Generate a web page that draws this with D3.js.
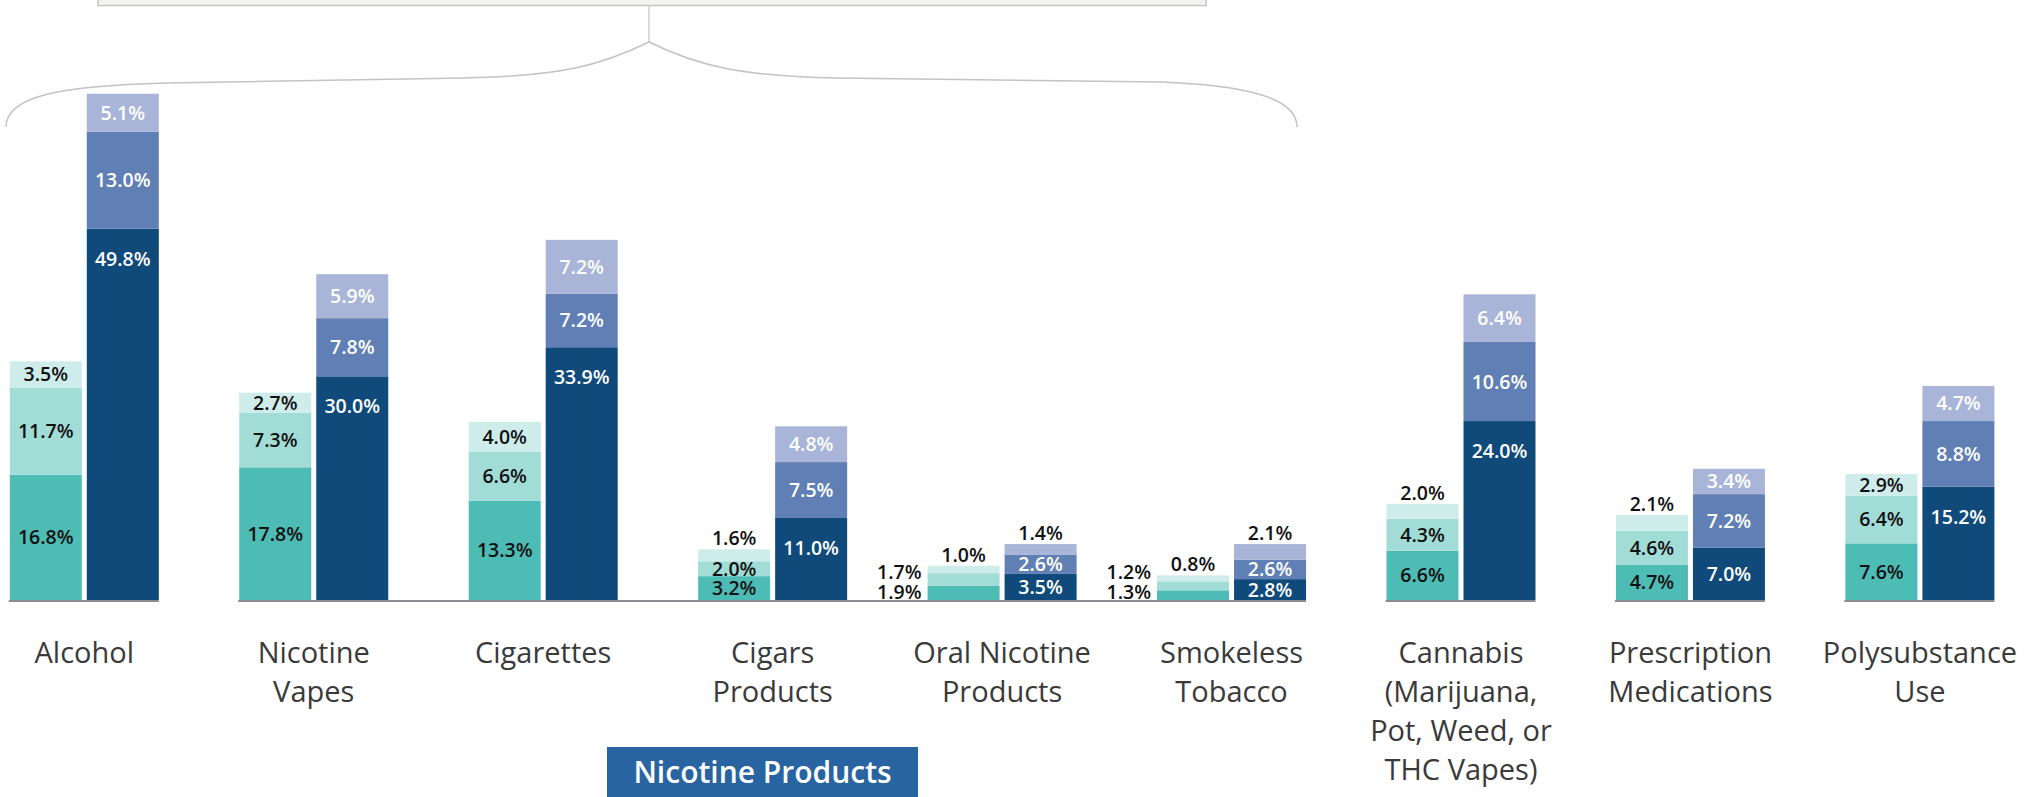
<!DOCTYPE html>
<html>
<head>
<meta charset="utf-8">
<script src="https://cdn.jsdelivr.net/npm/d3@7"></script>
<style>
  html, body { margin: 0; padding: 0; background: #ffffff; }
  svg { display: block; }
  text { font-family: "Open Sans", "Noto Sans", sans-serif; }
</style>
</head>
<body>
<svg id="chart" width="2038" height="797"></svg>
<script>
// ---------------- DATA ----------------
const categories = [
  "Alcohol", "Nicotine Vapes", "Cigarettes", "Cigars Products",
  "Oral Nicotine Products", "Smokeless Tobacco",
  "Cannabis (Marijuana, Pot, Weed, or THC Vapes)",
  "Prescription Medications", "Polysubstance Use"
];
const categoryLines = [
  ["Alcohol"], ["Nicotine", "Vapes"], ["Cigarettes"], ["Cigars", "Products"],
  ["Oral Nicotine", "Products"], ["Smokeless", "Tobacco"],
  ["Cannabis", "(Marijuana,", "Pot, Weed, or", "THC Vapes)"],
  ["Prescription", "Medications"], ["Polysubstance", "Use"]
];
// teal stacked bar (bottom -> top)
const tealBottom = [16.8, 17.8, 13.3, 3.2, 1.9, 1.3, 6.6, 4.7, 7.6];
const tealMiddle = [11.7, 7.3, 6.6, 2.0, 1.7, 1.2, 4.3, 4.6, 6.4];
const tealTop    = [3.5, 2.7, 4.0, 1.6, 1.0, 0.8, 2.0, 2.1, 2.9];
// blue stacked bar (bottom -> top)
const blueBottom = [49.8, 30.0, 33.9, 11.0, 3.5, 2.8, 24.0, 7.0, 15.2];
const blueMiddle = [13.0, 7.8, 7.2, 7.5, 2.6, 2.6, 10.6, 7.2, 8.8];
const blueTop    = [5.1, 5.9, 7.2, 4.8, 1.4, 2.1, 6.4, 3.4, 4.7];
const nicotineGroup = ["Nicotine Vapes", "Cigarettes", "Cigars Products",
                       "Oral Nicotine Products", "Smokeless Tobacco"];
const groupTitle = "Nicotine Products";

// ---------------- STYLE ----------------
const tealColors = ["#4dbcb5", "#a2dcd7", "#cdecea"];
const blueColors = ["#0f4a7b", "#607fb5", "#a8b5d8"];

const svg = d3.select("#chart");

const x = d3.scalePoint().domain(categories).range([84.3, 1919.9]).padding(0);
const inner = d3.scaleBand().domain(["teal", "blue"]).range([-74.5, 74.5])
  .paddingInner(0.065).paddingOuter(0);
const y = d3.scaleLinear().domain([0, 68]).range([600, 93]);

const rows = categories.map((c, i) => ({
  cat: c,
  t0: tealBottom[i], t1: tealMiddle[i], t2: tealTop[i],
  b0: blueBottom[i], b1: blueMiddle[i], b2: blueTop[i]
}));
const tealStack = d3.stack().keys(["t0", "t1", "t2"])(rows);
const blueStack = d3.stack().keys(["b0", "b1", "b2"])(rows);

// ---- top box + brace (decorative annotation) ----
svg.append("rect").attr("x", 98).attr("y", -10).attr("width", 1108).attr("height", 15.5)
  .attr("fill", "#f3f3f2").attr("stroke", "#c4c4c4").attr("stroke-width", 1.5);
svg.append("line").attr("x1", 649).attr("x2", 649).attr("y1", 6).attr("y2", 42)
  .attr("stroke", "#c3c3c3").attr("stroke-width", 1.2);
svg.append("path")
  .attr("d", "M6,127 C6,96 60,86 166,83 L464,78 C560,76 600,66 649,42 C698,66 740,76 837,78 L1160,82 C1240,85 1297,96 1297,127")
  .attr("fill", "none").attr("stroke", "#c3c3c3").attr("stroke-width", 1.5);

// ---- bars ----
function drawStack(stack, key, colors) {
  stack.forEach((layer, j) => {
    svg.append("g").selectAll("rect").data(layer).join("rect")
      .attr("x", d => x(d.data.cat) + inner(key))
      .attr("width", inner.bandwidth())
      .attr("y", d => y(d[1]))
      .attr("height", d => y(d[0]) - y(d[1]))
      .attr("fill", colors[j]);
  });
}
drawStack(tealStack, "teal", tealColors);
drawStack(blueStack, "blue", blueColors);

// ---- baselines ----
const baseY = y(0) + 1;
const lineG = svg.append("g").attr("stroke", "#8a8c92").attr("stroke-width", 2);
categories.forEach(c => {
  if (nicotineGroup.includes(c)) return;
  lineG.append("line")
    .attr("x1", x(c) + inner("teal") - 1).attr("x2", x(c) + inner("blue") + inner.bandwidth())
    .attr("y1", baseY).attr("y2", baseY);
});
lineG.append("line")
  .attr("x1", x(nicotineGroup[0]) + inner("teal") - 1)
  .attr("x2", x(nicotineGroup[nicotineGroup.length - 1]) + inner("blue") + inner.bandwidth())
  .attr("y1", baseY).attr("y2", baseY);

// ---- value labels ----
const fmt = v => d3.format(".1f")(v) + "%";
const fs = 19.5;
const lab = svg.append("g").attr("font-size", fs).attr("font-weight", 600);
function labelStack(stack, key, insideColor, isBlue) {
  rows.forEach((r, i) => {
    const left = x(r.cat) + inner(key);
    const cx = left + inner.bandwidth() / 2;
    let bottomLeftCy = null;
    stack.forEach((layer, j) => {
      const d = layer[i];
      const v = d[1] - d[0];
      const top = y(d[1]), bot = y(d[0]);
      let cy = (top + bot) / 2;
      let tx = cx, anchor = "middle", color = insideColor;
      if (j === 2 && v < 2.5) {
        cy = top - 4 - 0.357 * fs;
        color = "#111";
      } else if (j < 2 && v < 2.0) {
        tx = left - 6; anchor = "end"; color = "#111";
        if (j === 0) { cy = y(0) - 8; bottomLeftCy = cy; }
        else if (bottomLeftCy !== null) { cy = Math.min(cy, bottomLeftCy - 20); }
      } else if (isBlue && j === 0) {
        cy = Math.min(cy, top + 30);
      }
      lab.append("text").attr("x", tx).attr("y", cy + 0.357 * fs)
        .attr("text-anchor", anchor).attr("fill", color).text(fmt(v));
    });
  });
}
labelStack(tealStack, "teal", "#111", false);
labelStack(blueStack, "blue", "#ffffff", true);

// ---- category labels ----
const catG = svg.append("g").attr("font-size", 29).attr("fill", "#3a3a3a")
  .attr("text-anchor", "middle");
categories.forEach((c, i) => {
  const t = catG.append("text").attr("x", x(c)).attr("y", 663);
  categoryLines[i].forEach((line, k) => {
    t.append("tspan").attr("x", x(c)).attr("dy", k === 0 ? 0 : 39).text(line);
  });
});

// ---- group title box ----
svg.append("rect").attr("x", 607).attr("y", 747).attr("width", 311).attr("height", 60)
  .attr("fill", "#2864a2");
svg.append("text").attr("x", 762.5).attr("y", 783).attr("text-anchor", "middle")
  .attr("font-size", 30).attr("font-weight", 600).attr("fill", "#ffffff").text(groupTitle);
</script>
</body>
</html>
